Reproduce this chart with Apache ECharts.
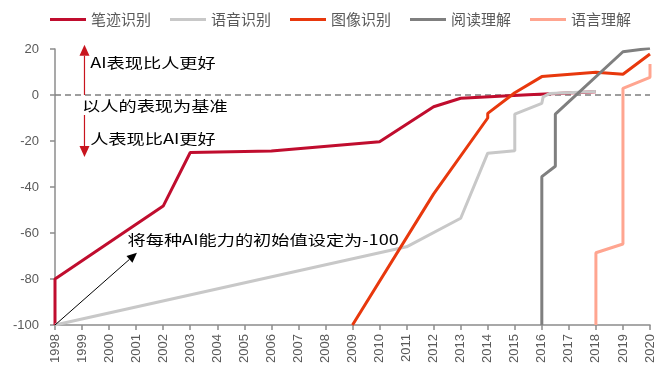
<!DOCTYPE html>
<html>
<head>
<meta charset="utf-8">
<script src="https://cdn.jsdelivr.net/npm/echarts@6/dist/echarts.min.js"></script>
<style>html,body{margin:0;padding:0;background:#fff;}#c{width:667px;height:379px;}</style>
</head>
<body>
<div id="c"></div>
<script>
// ---- data ----
const seriesNames = ['笔迹识别', '语音识别', '图像识别', '阅读理解', '语言理解'];
const seriesColors = ['#C00D2E', '#C8C8C8', '#E8380D', '#7F7F7F', '#FFA590'];

const handwritingX = [1998, 1998, 2002, 2003, 2006, 2010, 2012, 2013, 2015.5, 2018];
const handwritingY = [-100, -80, -48.3, -25, -24.3, -20.3, -5.1, -1.4, 0.1, 1.4];

const speechX = [1998, 2011, 2013, 2014, 2015, 2015, 2016, 2016.05, 2016.3, 2018];
const speechY = [-100, -66, -53.6, -25.3, -24.2, -8.3, -3.6, -0.8, 0.7, 1.5];

const imageX = [2009, 2012, 2014, 2014, 2015, 2016, 2018, 2019, 2020];
const imageY = [-100, -43, -10, -8, 1, 8, 9.9, 9, 17.8];

const readingX = [2016, 2016, 2016.5, 2016.5, 2019, 2020];
const readingY = [-100, -35.5, -31, -8.3, 18.8, 20.3];

const languageX = [2018, 2018, 2019, 2019, 2020, 2020];
const languageY = [-100, -68.6, -64.8, 2.9, 7.7, 13.5];

const xTicks = [1998, 1999, 2000, 2001, 2002, 2003, 2004, 2005, 2006, 2007, 2008, 2009, 2010, 2011, 2012, 2013, 2014, 2015, 2016, 2017, 2018, 2019, 2020];
const yTicks = [-100, -80, -60, -40, -20, 0, 20];

const noteTexts = ['AI表现比人更好', '以人的表现为基准', '人表现比AI更好', '将每种AI能力的初始值设定为-100'];

// ---- chart ----
const pairs = (xs, ys) => xs.map((x, i) => [x, ys[i]]);
const allX = [handwritingX, speechX, imageX, readingX, languageX];
const allY = [handwritingY, speechY, imageY, readingY, languageY];

const chart = echarts.init(document.getElementById('c'), null, {renderer: 'canvas'});
const axisColor = '#8C8C8C';
const series = seriesNames.map((name, i) => {
  const s = {
    name: name,
    type: 'line',
    data: pairs(allX[i], allY[i]),
    symbol: 'none',
    showSymbol: false,
    color: seriesColors[i],
    lineStyle: {color: seriesColors[i], width: 3},
    z: 3
  };
  if (i === 0) {
    s.markLine = {
      silent: true,
      symbol: ['none', 'none'],
      label: {show: false},
      lineStyle: {color: '#7F7F7F', type: [6, 4], width: 1.6},
      data: [{yAxis: 0}],
      z: 2
    };
  }
  return s;
});

chart.setOption({
  animation: false,
  backgroundColor: '#fff',
  legend: {
    data: seriesNames,
    left: 45,
    top: 7,
    itemWidth: 36,
    itemHeight: 14,
    itemGap: 19,
    icon: 'path://M0,0L36,0L36,3L0,3Z',
    textStyle: {fontFamily: 'Noto Sans CJK SC', fontSize: 15, color: '#595959'}
  },
  grid: {left: 55, right: 17, top: 49, bottom: 54, containLabel: false, outerBoundsMode: 'none'},
  xAxis: {
    type: 'value',
    min: xTicks[0],
    max: xTicks[xTicks.length - 1],
    interval: 1,
    axisLine: {show: true, onZero: false, lineStyle: {color: axisColor, width: 1.5}},
    axisTick: {show: true, length: 5, lineStyle: {color: axisColor, width: 1.5}},
    splitLine: {show: false},
    axisLabel: {
      rotate: 90,
      margin: 9,
      color: '#595959',
      fontFamily: 'Liberation Sans, Arial',
      fontSize: 13,
      formatter: v => String(v)
    }
  },
  yAxis: {
    type: 'value',
    min: yTicks[0],
    max: yTicks[yTicks.length - 1],
    interval: 20,
    axisLine: {show: true, lineStyle: {color: axisColor, width: 1.5}},
    axisTick: {show: true, length: 5, lineStyle: {color: axisColor, width: 1.5}},
    splitLine: {show: false},
    axisLabel: {
      margin: 16,
      color: '#595959',
      fontFamily: 'Liberation Sans, Arial',
      fontSize: 13
    }
  },
  series: series
});

// ---- annotations, anchored through the axes ----
const px = (x, y) => chart.convertToPixel({gridIndex: 0}, [x, y]);

function arrow(from, to, color, lw, headLen, headW) {
  const dx = to[0] - from[0], dy = to[1] - from[1];
  const len = Math.sqrt(dx * dx + dy * dy);
  const ux = dx / len, uy = dy / len;
  const bx = to[0] - ux * headLen, by = to[1] - uy * headLen;
  const nx = -uy, ny = ux;
  return [
    {type: 'line', silent: true, z: 10,
     shape: {x1: from[0], y1: from[1], x2: bx, y2: by},
     style: {stroke: color, lineWidth: lw}},
    {type: 'polygon', silent: true, z: 10,
     shape: {points: [[to[0], to[1]], [bx + nx * headW / 2, by + ny * headW / 2], [bx - nx * headW / 2, by - ny * headW / 2]]},
     style: {fill: color}}
  ];
}

function note(text, anchor, scaleX, size, bg) {
  return {
    type: 'text', silent: true, z: 11,
    x: anchor[0], y: anchor[1], scaleX: scaleX,
    style: {
      text: text,
      fill: '#000',
      font: size + 'px "Noto Sans CJK SC"',
      verticalAlign: 'middle',
      align: 'left',
      backgroundColor: bg || 'transparent'
    }
  };
}

const redArrow = '#C8141E';
const graphics = []
  .concat(arrow(px(1999.09, 0), px(1999.09, 21.8), redArrow, 1.2, 11, 10))
  .concat(arrow(px(1999.09, -8.7), px(1999.09, -27), redArrow, 1.2, 11, 10))
  .concat(arrow(px(1998, -100), px(2001.03, -68.6), '#000', 1, 10, 9));
graphics.push(note(noteTexts[0], px(1999.3, 13.9), 1.3, 14));
graphics.push(note(noteTexts[1], px(1999.0, -4.8), 1.3, 14));
graphics.push(note(noteTexts[2], px(1999.3, -19.1), 1.3, 14));
graphics.push(note(noteTexts[3], px(2000.68, -63), 1.3, 14));

chart.setOption({graphic: graphics});
</script>
</body>
</html>
